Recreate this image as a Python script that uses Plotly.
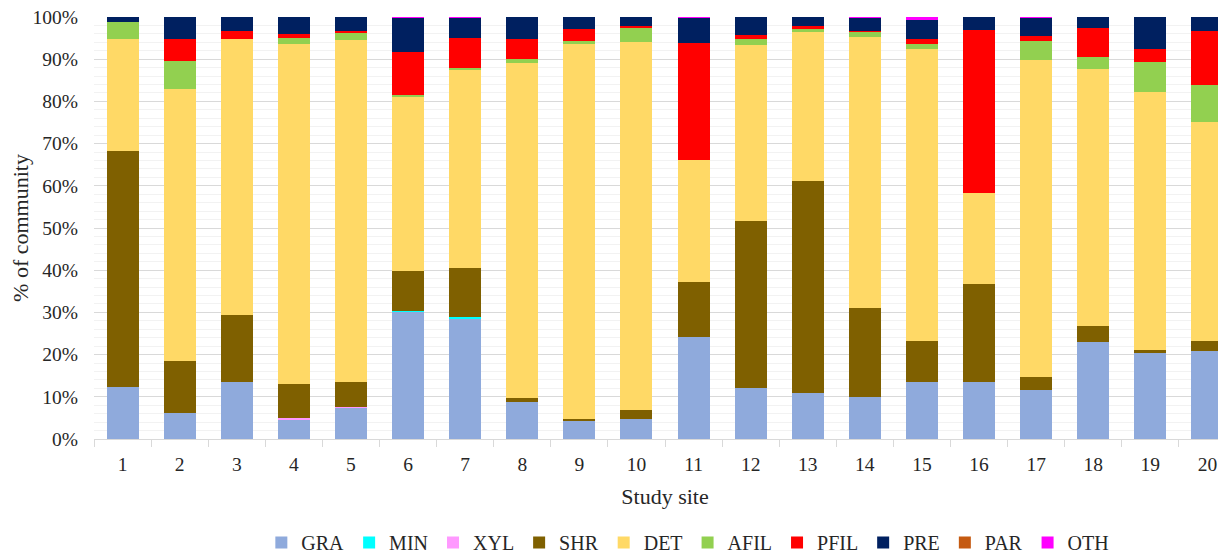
import plotly.graph_objects as go

sites = [str(i) for i in range(1, 21)]

GRA  = [12.3, 6.2, 13.5, 4.6, 7.5, 30.1, 28.6, 8.7, 4.4, 4.8, 24.1, 12.1, 10.9, 9.9, 13.4, 13.4, 11.6, 22.9, 20.6, 20.9]
MIN  = [0, 0, 0, 0, 0, 0.2, 0.3, 0, 0, 0, 0, 0, 0, 0, 0, 0, 0, 0, 0, 0]
XYL  = [0, 0, 0, 0.3, 0.2, 0, 0, 0, 0, 0, 0, 0, 0, 0, 0, 0, 0, 0, 0, 0]
SHR  = [56.0, 12.2, 16.0, 8.1, 5.9, 9.6, 11.6, 1.0, 0.4, 2.0, 13.2, 39.5, 50.2, 21.2, 9.9, 23.4, 3.1, 3.9, 0.4, 2.4]
DET  = [26.4, 64.6, 65.2, 80.6, 81.0, 41.2, 47.1, 79.3, 88.8, 87.2, 28.9, 41.7, 35.4, 64.1, 69.1, 21.5, 75.0, 60.8, 61.3, 51.8]
AFIL = [4.0, 6.6, 0, 1.5, 1.8, 0.4, 0.3, 1.1, 0.7, 3.6, 0, 1.4, 0.7, 1.3, 1.2, 0.1, 4.5, 2.9, 7.1, 8.8]
PFIL = [0, 5.1, 1.9, 0.8, 0.3, 10.2, 7.1, 4.6, 2.8, 0.2, 27.6, 1.0, 0.7, 0.3, 1.1, 38.6, 1.4, 6.9, 2.9, 12.9]
PRE  = [1.3, 5.3, 3.4, 4.1, 3.3, 8.1, 4.8, 5.3, 2.9, 2.2, 6.0, 4.3, 2.1, 3.0, 4.7, 3.0, 4.2, 2.6, 7.7, 3.2]
PAR  = [0] * 20
OTH  = [0, 0, 0, 0, 0, 0.2, 0.2, 0, 0, 0, 0.2, 0, 0, 0.2, 0.6, 0, 0.2, 0, 0, 0]

series = [
    ("GRA", GRA, "#8FAADC"),
    ("MIN", MIN, "#00FFFF"),
    ("XYL", XYL, "#FF99FF"),
    ("SHR", SHR, "#7F6000"),
    ("DET", DET, "#FFD966"),
    ("AFIL", AFIL, "#92D050"),
    ("PFIL", PFIL, "#FF0000"),
    ("PRE", PRE, "#002060"),
    ("PAR", PAR, "#C55A11"),
    ("OTH", OTH, "#FF00FF"),
]

fig = go.Figure()
for name, vals, col in series:
    fig.add_trace(go.Bar(x=sites, y=vals, name=name, marker=dict(color=col, line=dict(width=0))))

font_family = "Liberation Serif"
fig.update_layout(
    width=1228, height=559,
    barmode="stack", barnorm="percent", bargap=0.44,
    plot_bgcolor="white", paper_bgcolor="white",
    margin=dict(l=86, r=0, t=9, b=128, autoexpand=False),
    font=dict(family=font_family, size=19.5, color="#262626"),
    showlegend=True,
    legend=dict(orientation="h", x=0.52, xanchor="center", y=-0.245, yanchor="middle",
                font=dict(size=20), itemwidth=30, traceorder="normal"),
    xaxis=dict(
        type="category", title=dict(text="Study site", standoff=14, font=dict(size=22)),
        showline=True, linecolor="#d9d9d9", linewidth=1,
        ticks="outside", tickson="boundaries", ticklen=7, tickcolor="#d9d9d9",
        ticklabelstandoff=8,
        showgrid=False, tickfont=dict(size=19.5),
    ),
    yaxis=dict(
        range=[0, 100], dtick=10, ticksuffix="%",
        title=dict(text="% of community", standoff=3, font=dict(size=22)),
        showgrid=True, gridcolor="#d9d9d9", gridwidth=1,
        minor=dict(dtick=2, showgrid=True, gridcolor="#f2f2f2", gridwidth=1),
        zeroline=False, showline=False, ticks="", ticklabelstandoff=15,
        ticklabeloverflow="allow",
        tickfont=dict(size=19.5),
    ),
)

fig.write_html("out.html")
